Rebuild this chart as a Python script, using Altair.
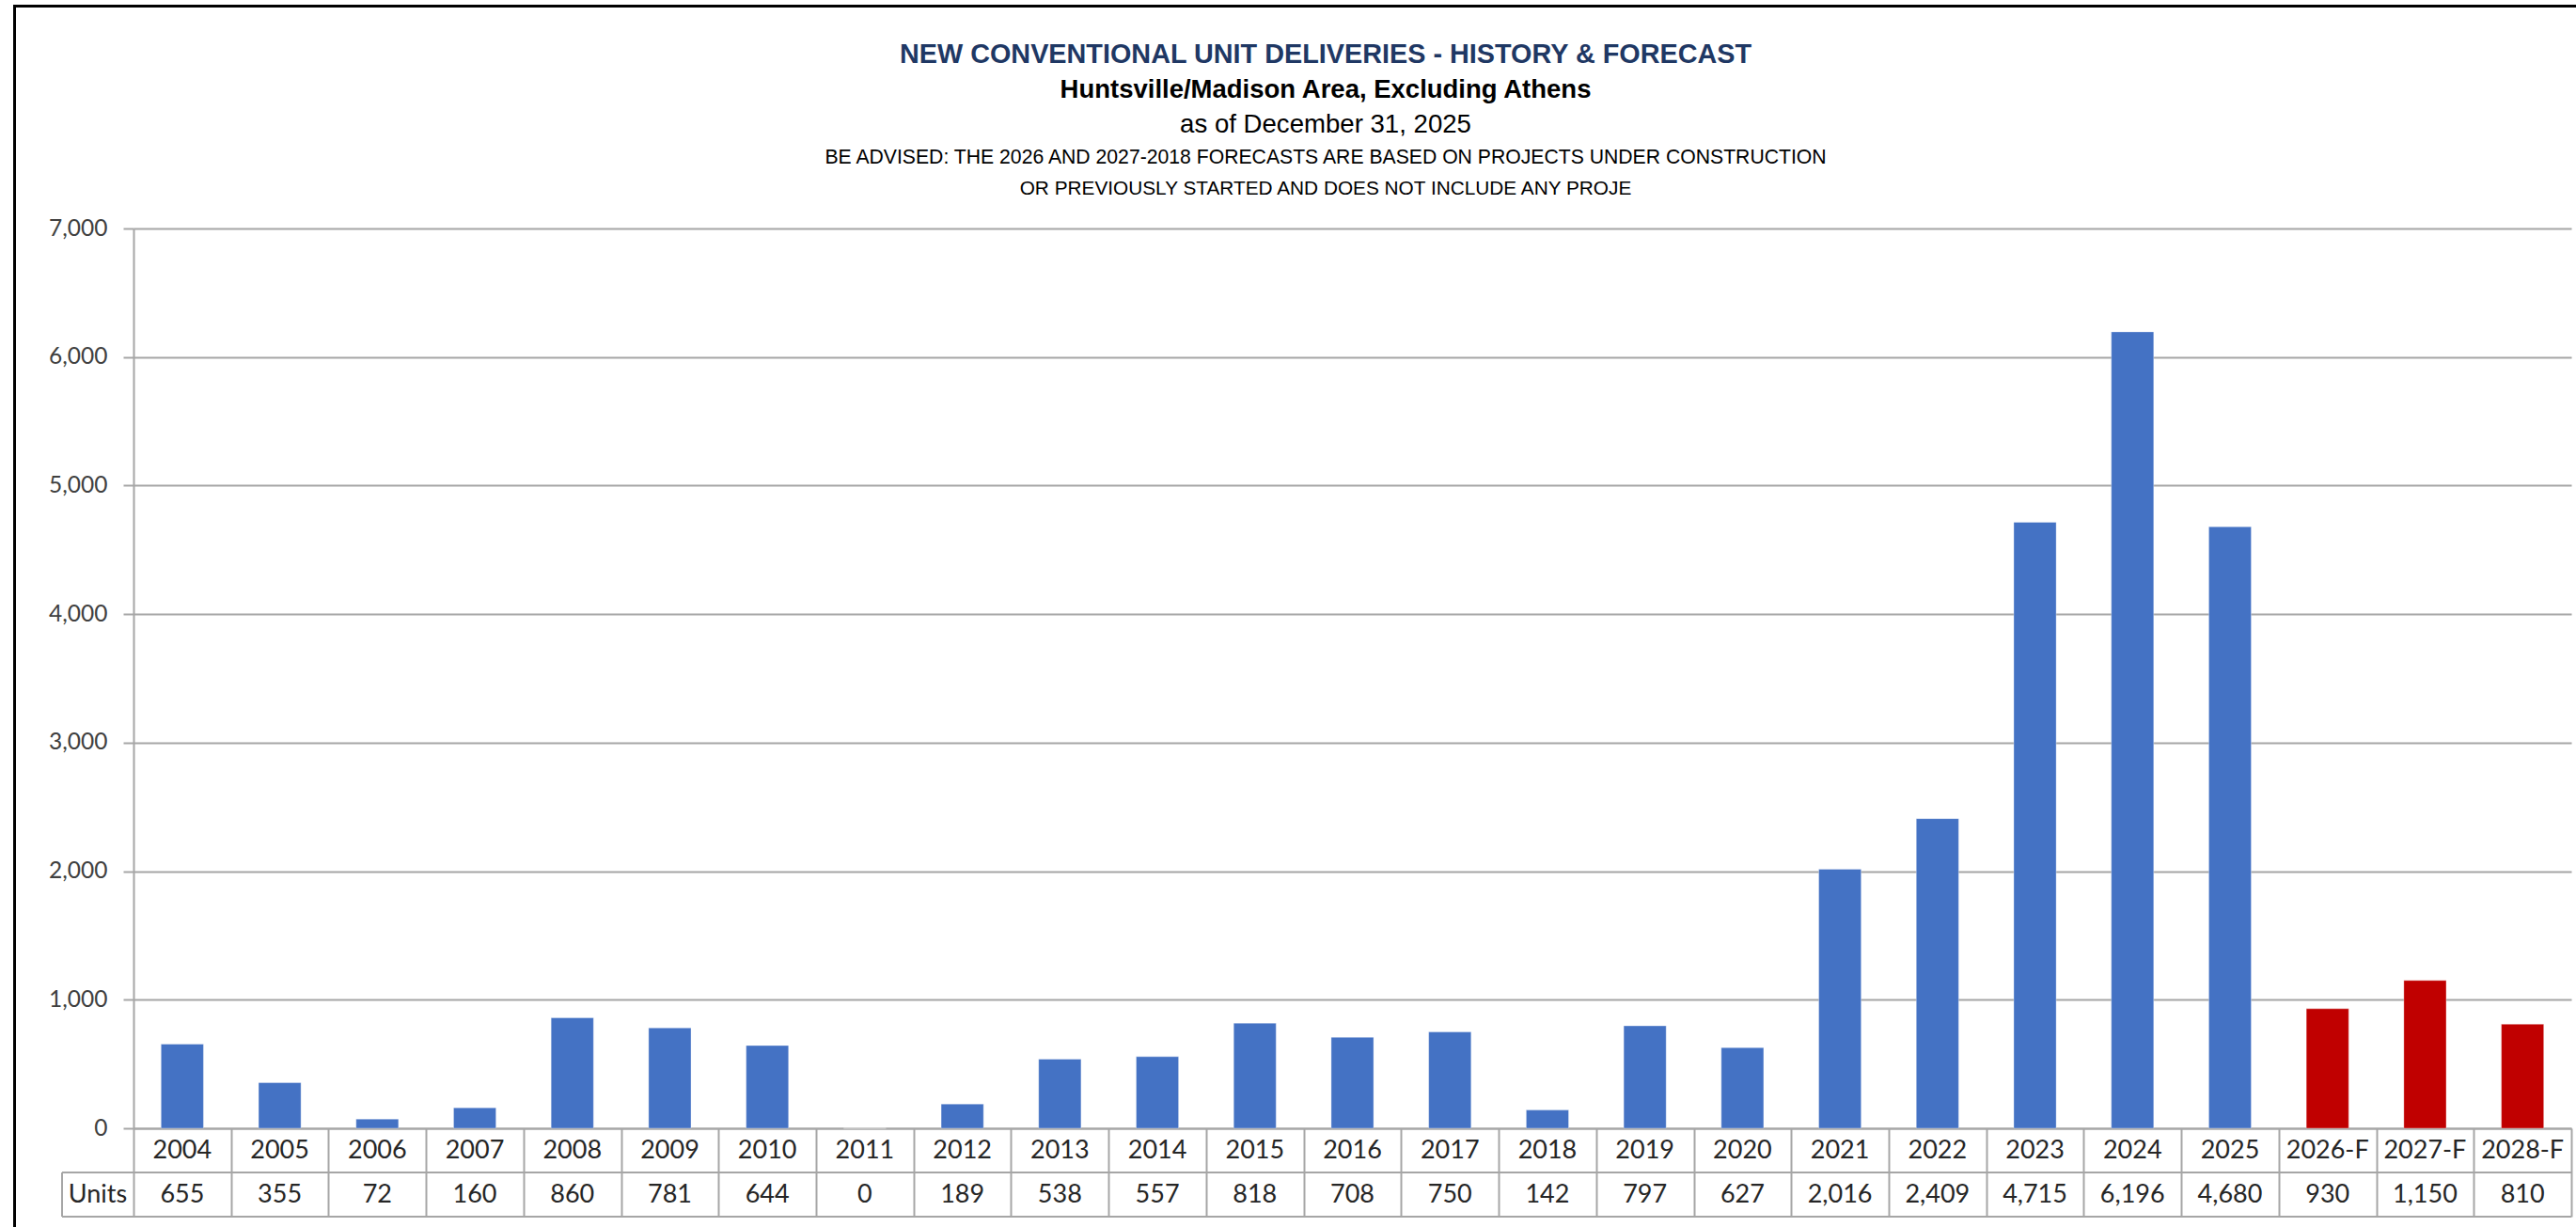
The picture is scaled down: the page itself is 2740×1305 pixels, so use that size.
import altair as alt
import pandas as pd

# Annual new conventional unit deliveries (history + forecast)
years = ["2004", "2005", "2006", "2007", "2008", "2009", "2010", "2011", "2012",
         "2013", "2014", "2015", "2016", "2017", "2018", "2019", "2020", "2021",
         "2022", "2023", "2024", "2025", "2026-F", "2027-F", "2028-F"]
units = [655, 355, 72, 160, 860, 781, 644, 0, 189, 538, 557, 818, 708, 750,
         142, 797, 627, 2016, 2409, 4715, 6196, 4680, 930, 1150, 810]
kinds = ["History"] * 22 + ["Forecast"] * 3
y_ticks = [0, 1000, 2000, 3000, 4000, 5000, 6000, 7000]

df = pd.DataFrame({"year": years, "units": units, "kind": kinds})
one = pd.DataFrame({"k": [0]})

W, H = 2593, 957          # plot area
ROW = 47                  # data-table row height
UNITS_COL = 76            # width of the "Units" header cell
GRID = "#A6A6A6"
TXT = "#262626"
AXIS_FONT = "Lato"
TITLE_FONT = "Liberation Sans"

x_scale = alt.Scale(domain=years, paddingInner=0, paddingOuter=0)
x_axis = alt.Axis(
    title=None, labels=False, grid=False,
    domain=True, domainColor=GRID, domainWidth=2,
    ticks=True, tickBand="extent", tickSize=2 * ROW, tickColor=GRID, tickWidth=2,
)
x_enc = alt.X("year:N", sort=years, scale=x_scale, axis=x_axis)

bars = alt.Chart(df).mark_bar(
    width=alt.RelativeBandSize(0.435), stroke="white", strokeOpacity=0.35, strokeWidth=1
).encode(
    x=x_enc,
    y=alt.Y(
        "units:Q",
        scale=alt.Scale(domain=[0, 7000], nice=False),
        axis=alt.Axis(
            title=None, values=y_ticks, format=",.0f",
            grid=True, gridColor=GRID, gridWidth=2,
            domain=True, domainColor=GRID, domainWidth=2,
            ticks=True, tickSize=11, tickColor=GRID, tickWidth=2,
            labelFont=AXIS_FONT, labelFontSize=24.5, labelColor="#404040",
            labelPadding=17,
        ),
    ),
    color=alt.Color(
        "kind:N",
        scale=alt.Scale(domain=["History", "Forecast"], range=["#4472C4", "#C00000"]),
        legend=None,
    ),
)

# Data table under the axis: year row and units row
year_row = alt.Chart(df).mark_text(
    font=AXIS_FONT, fontSize=27, color=TXT, baseline="middle", align="center"
).encode(x=x_enc, y=alt.value(H + ROW / 2), text="year:N")

units_row = alt.Chart(df).mark_text(
    font=AXIS_FONT, fontSize=27, color=TXT, baseline="middle", align="center"
).encode(x=x_enc, y=alt.value(H + ROW * 1.5), text=alt.Text("units:Q", format=","))

units_head = alt.Chart(one).mark_text(
    text="Units", font=AXIS_FONT, fontSize=27, color=TXT, baseline="middle", align="center"
).encode(x=alt.value(-UNITS_COL / 2), y=alt.value(H + ROW * 1.5))

line_mid = alt.Chart(one).mark_rule(color=GRID, strokeWidth=2).encode(
    x=alt.value(-UNITS_COL), x2=alt.value(W), y=alt.value(H + ROW))
line_bot = alt.Chart(one).mark_rule(color=GRID, strokeWidth=2).encode(
    x=alt.value(-UNITS_COL), x2=alt.value(W), y=alt.value(H + 2 * ROW))
line_head = alt.Chart(one).mark_rule(color=GRID, strokeWidth=2).encode(
    x=alt.value(-UNITS_COL), y=alt.value(H + ROW), y2=alt.value(H + 2 * ROW))

# Chart frame (left and top edges)
frame_left = alt.Chart(one).mark_rule(color="black", strokeWidth=3).encode(
    x=alt.value(-126.5), y=alt.value(-238), y2=alt.value(1070))
frame_top = alt.Chart(one).mark_rule(color="black", strokeWidth=3).encode(
    x=alt.value(-128), x2=alt.value(2600), y=alt.value(-236.5))

# Title block
TX = 1268


def title_line(text, y, size, weight="normal", color="black"):
    return alt.Chart(one).mark_text(
        text=text, font=TITLE_FONT, fontSize=size, fontWeight=weight, color=color,
        align="center", baseline="alphabetic",
    ).encode(x=alt.value(TX), y=alt.value(y))


t1 = title_line("NEW CONVENTIONAL UNIT DELIVERIES - HISTORY & FORECAST", -176, 28.8,
                "bold", "#1F3864")
t2 = title_line("Huntsville/Madison Area, Excluding Athens", -139, 27.5, "bold")
t3 = title_line("as of December 31, 2025", -102, 27.6)
t4 = title_line("BE ADVISED: THE 2026 AND 2027-2018 FORECASTS ARE BASED ON PROJECTS UNDER CONSTRUCTION",
                -69, 21.2)
t5 = title_line("OR PREVIOUSLY STARTED AND DOES NOT INCLUDE ANY PROJE", -36, 20.8)

chart = alt.layer(
    bars, year_row, units_row, units_head, line_mid, line_bot, line_head,
    frame_left, frame_top, t1, t2, t3, t4, t5,
).properties(
    width=W,
    height=H,
    autosize=alt.AutoSizeParams(type="none"),
    padding={"left": 142, "top": 243, "right": 5, "bottom": 105},
    background="white",
).configure_view(stroke=None)

chart.save("out.html", embed_options={"renderer": "svg", "actions": False})
